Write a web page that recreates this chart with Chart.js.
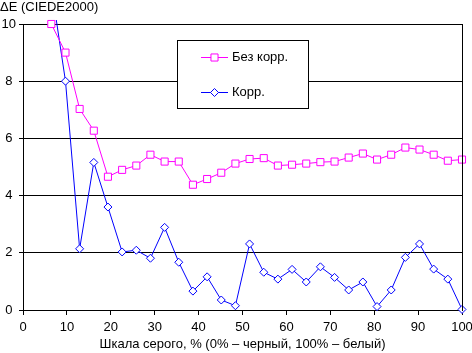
<!DOCTYPE html>
<html>
<head>
  <title>ΔE (CIEDE2000)</title>
  <script src="https://cdn.jsdelivr.net/npm/chart.js"></script>
  <style>
    body { margin: 0; background: #fff; }
    canvas { display: block; }
  </style>
</head>
<body>
  <canvas id="deltaChart" width="472" height="353"></canvas>

  <script>
    // Gray level, % (points of the measurement)
    const grayLevels = [6.45, 9.68, 12.9, 16.13, 19.35, 22.58, 25.81, 29.03, 32.26, 35.48,
      38.71, 41.94, 45.16, 48.39, 51.61, 54.84, 58.06, 61.29, 64.52, 67.74,
      70.97, 74.19, 77.42, 80.65, 83.87, 87.1, 90.32, 93.55, 96.77, 100];
    const uncorrected = [10.0, 9.0, 7.03, 6.27, 4.66, 4.9, 5.05, 5.43, 5.19, 5.19,
      4.38, 4.58, 4.8, 5.12, 5.28, 5.31, 5.05, 5.08, 5.12, 5.17,
      5.19, 5.33, 5.47, 5.26, 5.43, 5.68, 5.61, 5.43, 5.22, 5.26];
    const corrected = [11.3, 8.0, 2.14, 5.16, 3.6, 2.03, 2.09, 1.81, 2.89, 1.67,
      0.66, 1.16, 0.35, 0.15, 2.31, 1.32, 1.08, 1.42, 0.98, 1.51,
      1.14, 0.7, 0.98, 0.12, 0.7, 1.84, 2.31, 1.43, 1.08, 0.02];
    const seriesNames = ['Без корр.', 'Корр.'];
    const xTitle = 'Шкала серого, % (0% – черный, 100% – белый)';
    const yTitle = 'ΔE (CIEDE2000)';

    const FONT = "'Liberation Sans', Arial, sans-serif";
    Chart.defaults.font.family = FONT;
    Chart.defaults.font.size = 13;
    Chart.defaults.color = '#000';

    const toPoints = vals => vals.map((v, i) => ({ x: grayLevels[i], y: v }));

    // y title on top + boxed legend inside the plot + right border of plot area
    const excelBits = {
      id: 'excelBits',
      afterDraw(chart) {
        const ctx = chart.ctx;
        const area = chart.chartArea;
        ctx.save();
        ctx.strokeStyle = '#000';
        ctx.lineWidth = 1;
        const rx = Math.round(area.right - 0.5) + 0.5;
        ctx.beginPath();
        ctx.moveTo(rx, Math.round(area.top));
        ctx.lineTo(rx, Math.round(area.bottom) + 1);
        ctx.stroke();

        ctx.font = '13px ' + FONT;
        ctx.fillStyle = '#000';
        ctx.textBaseline = 'middle';
        ctx.textAlign = 'left';
        ctx.fillText(yTitle, 0, 7);

        // legend box
        ctx.fillStyle = '#fff';
        ctx.fillRect(177.5, 40.5, 131, 68);
        ctx.strokeRect(177.5, 40.5, 131, 68);
        const rows = [57.5, 92.5];
        chart.data.datasets.forEach((ds, i) => {
          const y = rows[i];
          ctx.strokeStyle = ds.borderColor;
          ctx.beginPath();
          ctx.moveTo(201, y);
          ctx.lineTo(228, y);
          ctx.stroke();
          ctx.fillStyle = '#fff';
          Chart.helpers.drawPoint(ctx, {
            pointStyle: ds.pointStyle, radius: ds.pointRadius,
            borderWidth: 1, rotation: 0
          }, 214.5, y);
          ctx.fillStyle = '#000';
          ctx.fillText(ds.label, 232, y);
        });
        ctx.restore();
      }
    };

    const ctx = document.getElementById('deltaChart').getContext('2d');
    new Chart(ctx, {
      type: 'line',
      data: {
        datasets: [{
          label: seriesNames[0],
          data: toPoints(uncorrected),
          borderColor: '#ff00ff',
          backgroundColor: '#ffffff',
          borderWidth: 1,
          pointStyle: 'rect',
          pointRadius: 5,
          pointBorderWidth: 1,
          tension: 0,
          clip: 5
        }, {
          label: seriesNames[1],
          data: toPoints(corrected),
          borderColor: '#0000ff',
          backgroundColor: '#ffffff',
          borderWidth: 1,
          pointStyle: 'rectRot',
          pointRadius: 4,
          pointBorderWidth: 1,
          tension: 0,
          clip: { left: 5, right: 5, top: 4, bottom: 5 }
        }]
      },
      plugins: [excelBits],
      options: {
        responsive: false,
        animation: false,
        events: [],
        layout: { padding: { top: 24, right: 10, left: 0, bottom: 0 } },
        plugins: {
          legend: { display: false },
          tooltip: { enabled: false }
        },
        scales: {
          x: {
            type: 'linear',
            min: 0,
            max: 100,
            ticks: { stepSize: 10, padding: 5, maxRotation: 0 },
            grid: { drawOnChartArea: false, color: '#000', tickLength: 5 },
            border: { color: '#000' },
            title: { display: true, text: xTitle, padding: { top: 0, bottom: 1 } },
            afterFit: s => { s.height = 43; s.paddingLeft = 0; s.paddingRight = 0; }
          },
          y: {
            min: 0,
            max: 10,
            ticks: { stepSize: 2, crossAlign: 'center', padding: 3 },
            grid: { color: '#000', tickLength: 4 },
            border: { color: '#000' },
            afterFit: s => { s.width = 23; }
          }
        }
      }
    });
  </script>
</body>
</html>
